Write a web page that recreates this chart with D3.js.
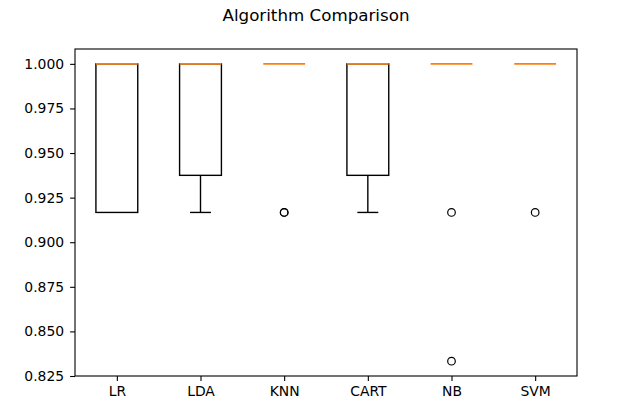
<!DOCTYPE html>
<html>
<head>
<meta charset="utf-8">
<script src="https://cdn.jsdelivr.net/npm/d3@7"></script>
<style>
  body { margin: 0; background: #fff; }
  svg text { font-family: "DejaVu Sans", sans-serif; }
</style>
</head>
<body>
<svg width="617" height="408"></svg>
<script>
// box statistics per algorithm (cross-validation accuracy)
const names = ["LR", "LDA", "KNN", "CART", "NB", "SVM"];
const q1 = [0.9167, 0.9375, 1.0, 0.9375, 1.0, 1.0];
const median = [1.0, 1.0, 1.0, 1.0, 1.0, 1.0];
const q3 = [1.0, 1.0, 1.0, 1.0, 1.0, 1.0];
const whiskLo = [0.9167, 0.9167, 1.0, 0.9167, 1.0, 1.0];
const whiskHi = [1.0, 1.0, 1.0, 1.0, 1.0, 1.0];
const fliers = [[], [], [0.9167, 0.9167], [], [0.9167, 0.8333], [0.9167]];
const yTicks = [0.825, 0.850, 0.875, 0.900, 0.925, 0.950, 0.975, 1.000];

let svg = d3.select("svg");
let mLeft = 75, mRight = 577, mTop = 49, mBottom = 376;

let x = d3.scaleLinear().domain([0.5, 6.5]).range([mLeft, mRight]);
let y = d3.scaleLinear().domain([0.825, 1.00833]).range([mBottom, mTop]);
let boxW = x(1.25) - x(1);   // half of box width
let capW = boxW / 2;

// title
svg.append("text")
  .attr("x", 316).attr("y", 21)
  .attr("text-anchor", "middle")
  .attr("font-size", "16.7px")
  .attr("fill", "#000")
  .text("Algorithm Comparison");

// axes
let yAxis = svg.append("g")
  .attr("transform", "translate(" + mLeft + ",0)")
  .call(d3.axisLeft(y).tickValues(yTicks).tickFormat(d3.format(".3f")).tickSize(4.9).tickPadding(6));
let xAxis = svg.append("g")
  .attr("transform", "translate(0," + mBottom + ")")
  .call(d3.axisBottom(x).tickValues(d3.range(1, 7)).tickFormat(function(d) { return names[d - 1]; }).tickSize(4.9).tickPadding(5));

[yAxis, xAxis].forEach(function(a) {
  a.select(".domain").remove();
  a.selectAll(".tick line").attr("stroke", "#000").attr("stroke-width", 1.1);
  a.selectAll(".tick text").attr("font-size", "13.9px").attr("fill", "#000").attr("font-family", "DejaVu Sans");
});

// boxes
let g = svg.append("g");
names.forEach(function(n, i) {
  let cx = x(i + 1);
  let line = function(x1, y1, x2, y2, color, w) {
    g.append("line")
      .attr("x1", x1).attr("y1", y1).attr("x2", x2).attr("y2", y2)
      .attr("stroke", color || "#000").attr("stroke-width", w || 1.39);
  };
  // whiskers and caps (skip the ones hidden under the median)
  if (whiskLo[i] < q1[i]) {
    line(cx, y(q1[i]), cx, y(whiskLo[i]));
    line(cx - capW, y(whiskLo[i]), cx + capW, y(whiskLo[i]));
  }
  if (whiskHi[i] > q3[i]) {
    line(cx, y(q3[i]), cx, y(whiskHi[i]));
    line(cx - capW, y(whiskHi[i]), cx + capW, y(whiskHi[i]));
  }
  // box
  if (q3[i] > q1[i]) {
    g.append("rect")
      .attr("x", cx - boxW).attr("y", y(q3[i]))
      .attr("width", 2 * boxW).attr("height", y(q1[i]) - y(q3[i]))
      .attr("fill", "none").attr("stroke", "#000").attr("stroke-width", 1.39);
  }
  // median
  line(cx - boxW, y(median[i]), cx + boxW, y(median[i]), "#ff7f0e", 1.8);
  // outliers
  fliers[i].forEach(function(v) {
    g.append("circle")
      .attr("cx", cx).attr("cy", y(v)).attr("r", 3.8)
      .attr("fill", "none").attr("stroke", "#000").attr("stroke-width", 1.2);
  });
});

// spines
svg.append("rect")
  .attr("x", mLeft).attr("y", mTop)
  .attr("width", mRight - mLeft).attr("height", mBottom - mTop)
  .attr("fill", "none").attr("stroke", "#000").attr("stroke-width", 1.1);
</script>
</body>
</html>
